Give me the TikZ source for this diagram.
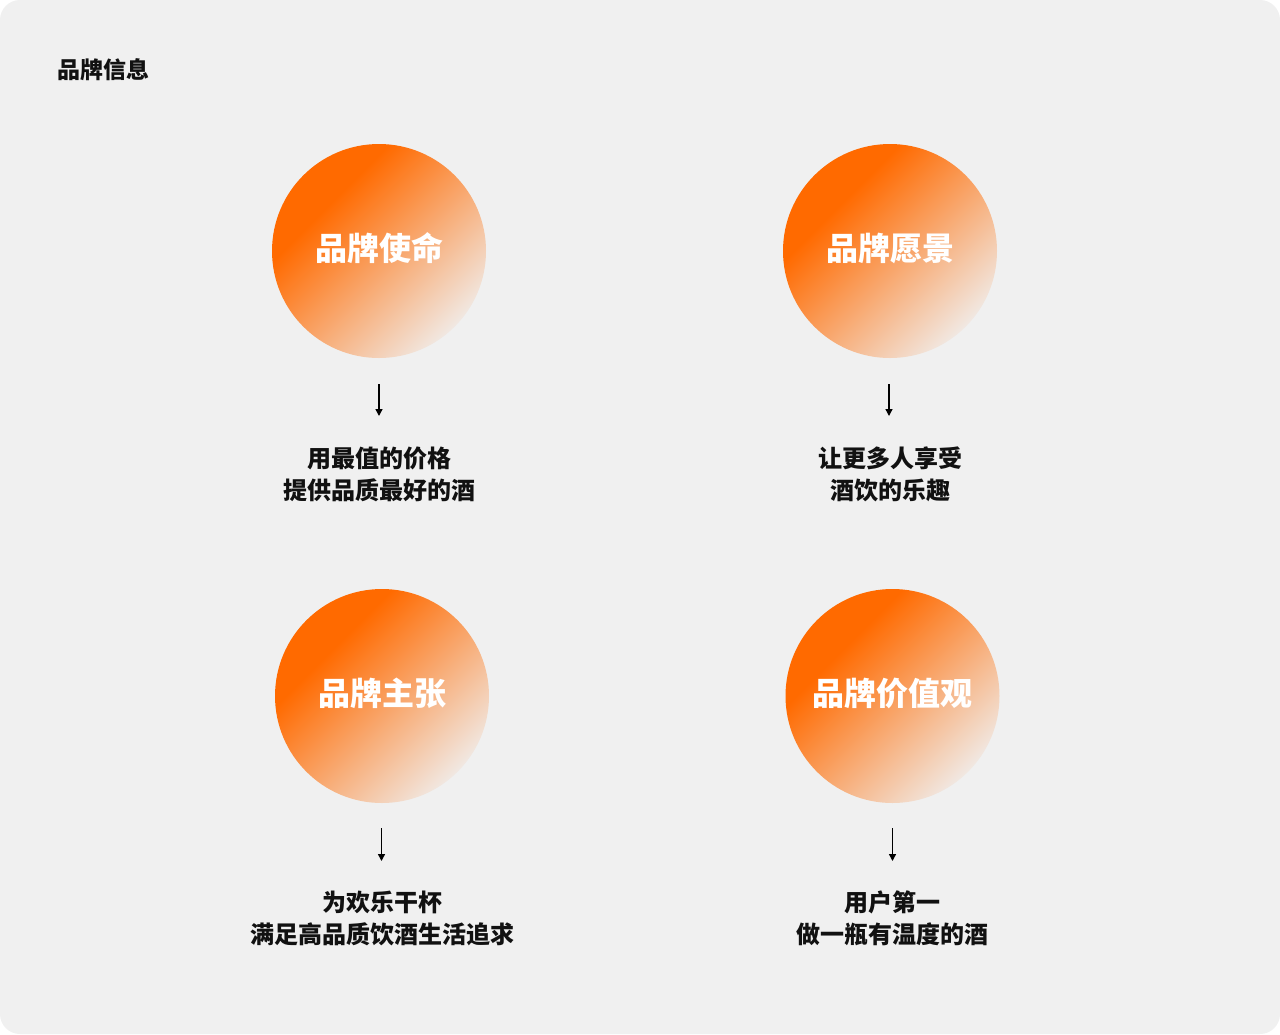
\documentclass[tikz,border=0pt]{standalone}
\usepackage{fontspec}
\setmainfont{Noto Sans CJK SC}
\usetikzlibrary{arrows.meta}
\definecolor{bgc}{RGB}{240,240,240}
\definecolor{orA}{RGB}{255,106,0}
\definecolor{orL}{RGB}{241,232,226}
\definecolor{txt}{RGB}{17,17,17}
\pgfdeclareverticalshading{orb}{100bp}{color(0bp)=(orL); color(25bp)=(orL); color(66bp)=(orA); color(100bp)=(orA)}
\newcommand{\orbtext}[1]{\raisebox{8pt}{#1}}
\tikzset{
  orbnode/.style={circle, minimum size=214pt, inner sep=0pt, shading=orb, shading angle=45,
    text=white, font=\fontsize{32}{36}\selectfont\bfseries},
  desc/.style={align=center, text=txt, font=\fontsize{24}{32}\selectfont\bfseries, inner sep=0pt},
  arr/.style={line width=1.4pt, draw=black, -{Triangle[length=7pt,width=7pt]}}
}
\begin{document}
\begin{tikzpicture}[x=1pt,y=1pt]
\useasboundingbox (0,0) rectangle (1280,-1034);
\fill[white] (0,0) rectangle (1280,-1034);
\fill[bgc, rounded corners=20pt] (0,0) rectangle (1280,-1034);
\node[text=txt, font=\fontsize{23}{28}\selectfont\bfseries, inner sep=0pt] (title) at (103,-70) {品牌信息};
% circles
\node[orbnode] (c1) at (379,-251) {\orbtext{品牌使命}};
\node[orbnode] (c2) at (890,-251) {\orbtext{品牌愿景}};
\node[orbnode] (c3) at (382,-696) {\orbtext{品牌主张}};
\node[orbnode] (c4) at (892.5,-696) {\orbtext{品牌价值观}};
% texts
\node[desc] (t1) at (379,-474) {用最值的价格\\提供品质最好的酒};
\node[desc] (t2) at (890,-474) {让更多人享受\\酒饮的乐趣};
\node[desc] (t3) at (382,-918) {为欢乐干杯\\满足高品质饮酒生活追求};
\node[desc] (t4) at (892.5,-918) {用户第一\\做一瓶有温度的酒};
% arrows
\coordinate (a1s) at (379,-384); \coordinate (a1e) at (379,-416);
\coordinate (a2s) at (889,-384); \coordinate (a2e) at (889,-416);
\coordinate (a3s) at (381.5,-828); \coordinate (a3e) at (381.5,-861);
\coordinate (a4s) at (892.5,-828); \coordinate (a4e) at (892.5,-861);
\draw[arr] (a1s) -- (a1e);
\draw[arr] (a2s) -- (a2e);
\draw[arr] (a3s) -- (a3e);
\draw[arr] (a4s) -- (a4e);
\end{tikzpicture}
\end{document}
